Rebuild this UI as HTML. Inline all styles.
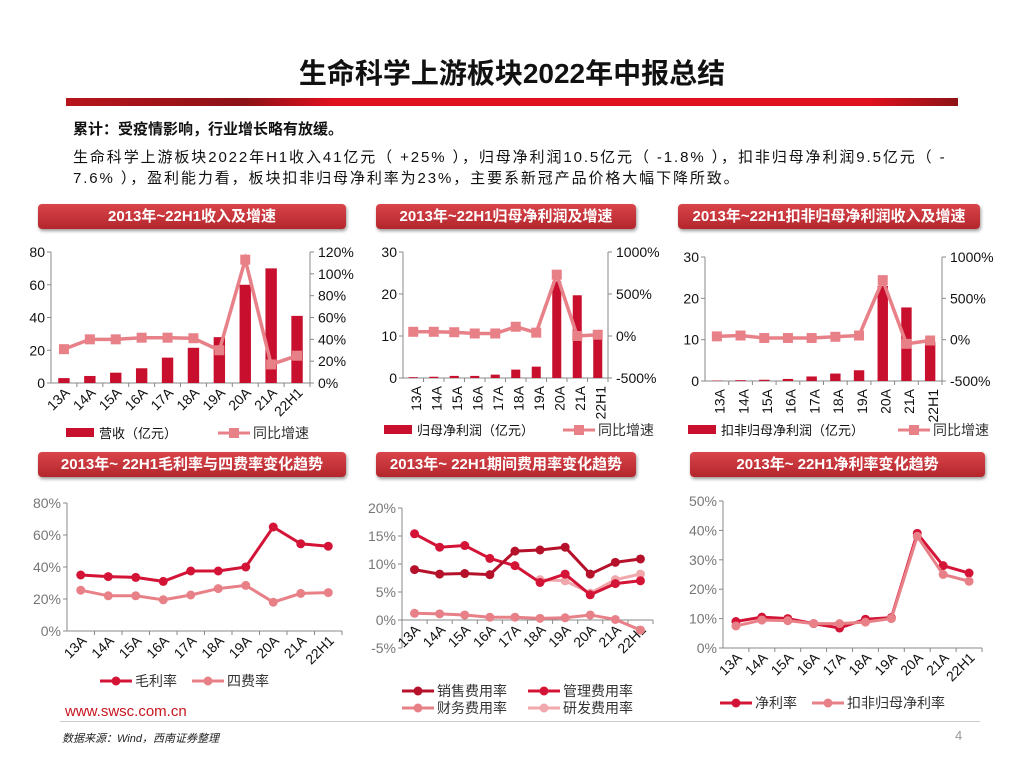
<!DOCTYPE html>
<html><head><meta charset="utf-8">
<style>
body{margin:0;width:1024px;height:768px;background:#fff;overflow:hidden;font-family:"Liberation Sans","Noto Sans CJK SC",sans-serif;position:relative}
.abs{position:absolute}
.hdr{position:absolute;height:25px;border-radius:4px;background:linear-gradient(#d9454a,#b3262c);color:#fff;font-weight:bold;font-size:15px;line-height:25px;text-align:center;box-shadow:1px 2px 3px #999;font-family:"Liberation Sans","Noto Sans CJK SC",sans-serif}
</style></head><body>
<div class="abs" style="left:0;width:1024px;top:52px;text-align:center;font-size:28px;font-weight:bold;color:#111">生命科学上游板块2022年中报总结</div>
<div class="abs" style="left:66px;top:98px;width:892px;height:8px;background:linear-gradient(90deg,#b8141c 0%,#8c1216 20%,#e0101e 30%,#e0101e 90%,#8c1216 100%)"></div>
<div class="abs" style="left:73px;top:118px;font-size:15px;font-weight:bold;color:#111">累计：受疫情影响，行业增长略有放缓。</div>
<div class="abs" style="left:73px;top:147px;width:910px;font-size:15px;line-height:21px;color:#111;white-space:nowrap;letter-spacing:1.9px">生命科学上游板块2022年H1收入41亿元（ +25% ），归母净利润10.5亿元（ -1.8% ），扣非归母净利润9.5亿元（ -<br>7.6% ），盈利能力看，板块扣非归母净利率为23%，主要系新冠产品价格大幅下降所致。</div>
<div class="hdr" style="left:38px;top:204px;width:308px">2013年~22H1收入及增速</div>
<div class="hdr" style="left:376px;top:204px;width:260px">2013年~22H1归母净利润及增速</div>
<div class="hdr" style="left:678px;top:204px;width:302px">2013年~22H1扣非归母净利润收入及增速</div>
<div class="hdr" style="left:38px;top:452px;width:308px">2013年~ 22H1毛利率与四费率变化趋势</div>
<div class="hdr" style="left:376px;top:452px;width:260px">2013年~ 22H1期间费用率变化趋势</div>
<div class="hdr" style="left:690px;top:452px;width:295px">2013年~ 22H1净利率变化趋势</div>
<div class="abs" style="left:65px;top:703px;font-size:15px;color:#c8161e">www.swsc.com.cn</div>
<div class="abs" style="left:60px;top:721px;width:920px;height:1px;background:#ccc"></div>
<div class="abs" style="left:62px;top:730px;font-size:11px;font-style:italic;color:#222">数据来源：Wind，西南证券整理</div>
<div class="abs" style="left:955px;top:728px;font-size:13px;color:#999">4</div>
<svg id="svg" class="abs" style="left:0;top:0" width="1024" height="768"></svg>
<script>
const categories=["13A","14A","15A","16A","17A","18A","19A","20A","21A","22H1"];
const revenue=[3,4.3,6.3,9,15.5,21.5,28,60,70,41];
const revenueGrowth=[31,40,40,41.5,41.5,41,30,113,17,25];
const netProfit=[0.2,0.3,0.5,0.5,0.8,2,2.7,23,19.7,10.5];
const netProfitGrowth=[50,50,45,30,30,110,40,730,0,15];
const deductProfit=[0.1,0.2,0.3,0.5,1.1,1.8,2.6,23,17.8,9.5];
const deductProfitGrowth=[40,50,20,20,20,35,50,720,-50,-10];
const grossMargin=[35,34,33.5,31,37.5,37.5,40,65,54.5,53];
const fourExpenseRate=[25.5,22,22,19.5,22.5,26.5,28.5,18,23.5,24];
const salesRate=[9,8.2,8.3,8.1,12.3,12.5,13,8.2,10.3,10.9];
const mgmtRate=[15.4,13,13.3,11,9.7,6.7,8.2,4.5,6.5,7];
const finRate=[1.2,1.1,0.9,0.5,0.5,0.3,0.4,0.9,0.1,-1.8];
const rdRate=[null,null,null,null,null,7.2,7,4.8,7.2,8.2];
const netMargin=[9,10.5,10,8.3,6.8,9.8,10.3,39,28,25.5];
const deductNetMargin=[7.5,9.5,9.3,8.3,8.3,8.8,10,38,25,22.7];
const ticks1L=[0,20,40,60,80],ticks1R=["0%","20%","40%","60%","80%","100%","120%"];
const ticks23L=[0,10,20,30],ticks23R=["-500%","0%","500%","1000%"];

const S=document.getElementById('svg');const NS='http://www.w3.org/2000/svg';
function el(t,a,txt){const e=document.createElementNS(NS,t);for(const k in a)e.setAttribute(k,a[k]);if(txt!=null)e.textContent=txt;S.appendChild(e);return e;}
function sc(d0,d1,p0,p1){return v=>p0+(v-d0)/(d1-d0)*(p1-p0);}
const DARK='#b5112a',RED='#d41437',PINK='#e88088',LPINK='#f0a8ad';

function axes(o){
 const bw=(o.x1-o.x0)/10;
 let e=el('line',{x1:o.x0,y1:o.yT,x2:o.x0,y2:o.yB,stroke:'#888'});
 const y0=o.yz!=null?o.yz:o.yB;
 e=el('line',{x1:o.x0,y1:y0,x2:o.x1,y2:y0,stroke:'#888'});
 o.lt.forEach((t,i)=>{const y=o.ly(o.lv[i]);el('line',{x1:o.x0-4,y1:y,x2:o.x0,y2:y,stroke:'#888'});
  e=el('text',{x:o.x0-6,y:y+5,'text-anchor':'end','font-size':14,fill:o.lc||'#111'},t);});
 if(o.rt){el('line',{x1:o.x1,y1:o.yT,x2:o.x1,y2:o.yB,stroke:'#888'});
  o.rt.forEach((t,i)=>{const y=o.ry(o.rv[i]);el('line',{x1:o.x1,y1:y,x2:o.x1+4,y2:y,stroke:'#888'});
  e=el('text',{x:o.x1+8,y:y+5,'font-size':14,fill:'#111'},t);});}
 categories.forEach((c,i)=>{const x=o.x0+bw*(i+1);el('line',{x1:x,y1:y0,x2:x,y2:y0+4,stroke:'#888'});
  const cx=o.x0+bw*(i+0.5)+4;const ly=(o.labY||y0)+8;
  e=el('text',{x:cx,y:ly,'text-anchor':'end','font-size':14,fill:'#111',transform:`rotate(${o.rot} ${cx} ${ly})`,'dominant-baseline':'middle'},c);
  });
 return bw;
}
function bars(o,bw,vals){vals.forEach((v,i)=>{const x=o.x0+bw*(i+0.5);const y=o.ly(v);
 const r=el('rect',{x:x-bw*0.22,y:y,width:bw*0.44,height:o.yB-y,fill:'#c8102e'});
 });}
function line(o,bw,vals,sc,col,mk,w,name){let p=[];vals.forEach((v,i)=>{if(v!=null)p.push([o.x0+bw*(i+0.5),sc(v)]);});
 const l=el('polyline',{points:p.map(a=>a.join(',')).join(' '),fill:'none',stroke:col,'stroke-width':w||3});
 
 p.forEach(a=>{let m;if(mk==='sq')m=el('rect',{x:a[0]-5,y:a[1]-5,width:10,height:10,fill:col});else m=el('circle',{cx:a[0],cy:a[1],r:4.5,fill:col});
  });}
function legBar(x,y,t,n){let r=el('rect',{x:x,y:y-5,width:28,height:9,fill:'#c8102e'});
 r=el('text',{x:x+33,y:y+5,'font-size':13,fill:'#111'},t);}
function legLine(x,y,t,col,mk,n){el('line',{x1:x,y1:y,x2:x+32,y2:y,stroke:col,'stroke-width':3});
 if(mk==='sq')el('rect',{x:x+11,y:y-5,width:10,height:10,fill:col});else el('circle',{cx:x+16,cy:y,r:4.5,fill:col});
 const r=el('text',{x:x+35,y:y+5,'font-size':14,fill:'#333'},t);}

let o={id:'chart1',x0:51,x1:310,yB:383,yT:252,rot:-45};o.ly=sc(0,80,383,252);o.lv=ticks1L;o.lt=ticks1L.map(String);
o.ry=sc(0,120,383,252);o.rv=[0,20,40,60,80,100,120];o.rt=ticks1R;
let bw=axes(o);bars(o,bw,revenue);line(o,bw,revenueGrowth,o.ry,PINK,'sq',3.5,'revenue-growth-line');
legBar(66,433,'营收（亿元）','legend-revenue');legLine(218,433,'同比增速',PINK,'sq','legend-growth');
o={id:'chart2',x0:403,x1:608,yB:378,yT:252,rot:-90};o.ly=sc(0,30,378,252);o.lv=ticks23L;o.lt=ticks23L.map(String);
o.ry=sc(-500,1000,378,252);o.rv=[-500,0,500,1000];o.rt=ticks23R;
bw=axes(o);bars(o,bw,netProfit);line(o,bw,netProfitGrowth,o.ry,PINK,'sq',3.5,'net-profit-growth-line');
legBar(384,430,'归母净利润（亿元）','legend-net-profit');legLine(563,430,'同比增速',PINK,'sq','legend-net-growth');
o={id:'chart3',x0:705,x1:942,yB:381,yT:257,rot:-90};o.ly=sc(0,30,381,257);o.lv=ticks23L;o.lt=ticks23L.map(String);
o.ry=sc(-500,1000,381,257);o.rv=[-500,0,500,1000];o.rt=ticks23R;
bw=axes(o);bars(o,bw,deductProfit);line(o,bw,deductProfitGrowth,o.ry,PINK,'sq',3.5,'deduct-growth-line');
legBar(688,430,'扣非归母净利润（亿元）','legend-deduct-profit');legLine(898,430,'同比增速',PINK,'sq','legend-deduct-growth');
o={id:'chart4',x0:67,x1:342,yB:631,yT:503,rot:-45,lc:'#777'};o.ly=sc(0,80,631,503);o.lv=[0,20,40,60,80];o.lt=["0%","20%","40%","60%","80%"];
bw=axes(o);line(o,bw,fourExpenseRate,o.ly,PINK,'c',3,'four-expense-line');line(o,bw,grossMargin,o.ly,RED,'c',3,'gross-margin-line');
legLine(100,681,'毛利率',RED,'c','legend-gross');legLine(192,681,'四费率',PINK,'c','legend-four');
o={id:'chart5',x0:402,x1:653,yB:648,yT:508,yz:620,rot:-45,lc:'#777'};o.ly=sc(-5,20,648,508);o.lv=[-5,0,5,10,15,20];o.lt=["-5%","0%","5%","10%","15%","20%"];
bw=axes(o);line(o,bw,finRate,o.ly,PINK,'c',3,'finance-rate-line');line(o,bw,rdRate,o.ly,LPINK,'c',3,'rd-rate-line');
line(o,bw,mgmtRate,o.ly,RED,'c',3,'mgmt-rate-line');line(o,bw,salesRate,o.ly,DARK,'c',3,'sales-rate-line');
legLine(402,691,'销售费用率',DARK,'c','legend-sales');legLine(528,691,'管理费用率',RED,'c','legend-mgmt');
legLine(402,708,'财务费用率',PINK,'c','legend-fin');legLine(528,708,'研发费用率',LPINK,'c','legend-rd');
o={id:'chart6',x0:723,x1:982,yB:648,yT:501,rot:-45,lc:'#777'};o.ly=sc(0,50,648,501);o.lv=[0,10,20,30,40,50];o.lt=["0%","10%","20%","30%","40%","50%"];
bw=axes(o);line(o,bw,netMargin,o.ly,RED,'c',3,'net-margin-line');line(o,bw,deductNetMargin,o.ly,PINK,'c',3,'deduct-net-margin-line');
legLine(720,703,'净利率',RED,'c','legend-net-margin');legLine(812,703,'扣非归母净利率',PINK,'c','legend-deduct-margin');
</script>
</body></html>
